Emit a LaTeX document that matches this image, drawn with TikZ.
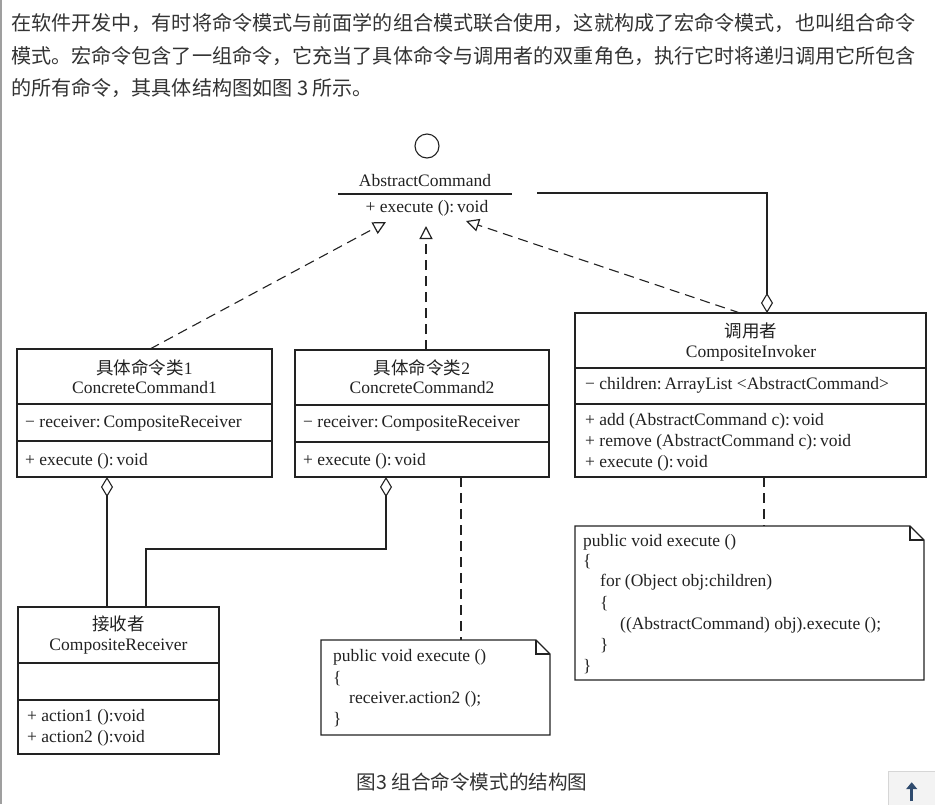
\documentclass[tikz,border=0pt]{standalone}
\usepackage{fontspec}
\setmainfont{Liberation Serif}
\newfontfamily\cjk{Noto Sans CJK SC}
\usetikzlibrary{arrows.meta,calc}
\definecolor{ink}{HTML}{222222}
\definecolor{para}{HTML}{333333}
\definecolor{btn}{HTML}{F3F3F3}
\definecolor{btnedge}{HTML}{D6D6D6}
\definecolor{arrowblue}{HTML}{2F4B6E}
\begin{document}
\begin{tikzpicture}[x=1pt,y=-1pt,
  box/.style={draw=ink, line width=1.1pt, inner sep=0pt, outer sep=0pt, anchor=north west, fill=white},
  lbl/.style={font=\fontsize{17.5}{20}\selectfont, text=ink, inner sep=0pt, anchor=base},
  lft/.style={lbl, anchor=base west},
  conn/.style={draw=ink, line width=1.1pt},
  dashconn/.style={conn, dash pattern=on 10pt off 6pt},
  realize/.style={dashconn, -{Triangle[open, length=13pt, width=13pt, line width=1.2pt]}},
  agg/.style={conn, {Diamond[open, length=20pt, width=12pt, line width=1.1pt]}-},
  ptext/.style={font=\cjk\fontsize{20.1}{24}\selectfont, text=para, inner sep=0pt, anchor=base west},
]
\useasboundingbox (0,0) rectangle (935,804);
\fill[white] (0,0) rectangle (935,804);
\draw[gray!75, line width=1.5pt] (0.75,0) -- (0.75,804);

% paragraph
\node[ptext] (p1) at (11,30) {在软件开发中，有时将命令模式与前面学的组合模式联合使用，这就构成了宏命令模式，也叫组合命令};
\node[ptext] (p2) at (11,63) {模式。宏命令包含了一组命令，它充当了具体命令与调用者的双重角色，执行它时将递归调用它所包含};
\node[ptext] (p3) at (11,95) {的所有命令，其具体结构图如图 3 所示。};

% abstract command (interface)
\node[circle, draw=ink, line width=1.1pt, minimum size=24pt, inner sep=0pt] (circ) at (427,146) {};
\node[lbl] (acname) at (425,186) {AbstractCommand};
\draw[conn] (338,194) -- (512,194);
\node[lbl] (acop) at (427,212) {+ execute ():\,void};
\coordinate (acend) at (537,193);
\coordinate (tip1) at (386,222);
\coordinate (tip2) at (426,226);
\coordinate (tip3) at (466,221);

% boxes
\node[box, minimum width=255pt, minimum height=128pt] (cc1) at (17,349) {};
\node[box, minimum width=254pt, minimum height=127pt] (cc2) at (295,350) {};
\node[box, minimum width=351pt, minimum height=164pt] (inv) at (575,313) {};
\node[box, minimum width=201pt, minimum height=147pt] (rcv) at (18,607) {};

% dividers
\draw[conn] (cc1.west |- 0,404) -- (cc1.east |- 0,404);
\draw[conn] (cc1.west |- 0,441) -- (cc1.east |- 0,441);
\draw[conn] (cc2.west |- 0,405) -- (cc2.east |- 0,405);
\draw[conn] (cc2.west |- 0,442) -- (cc2.east |- 0,442);
\draw[conn] (inv.west |- 0,368) -- (inv.east |- 0,368);
\draw[conn] (inv.west |- 0,404) -- (inv.east |- 0,404);
\draw[conn] (rcv.west |- 0,663) -- (rcv.east |- 0,663);
\draw[conn] (rcv.west |- 0,700) -- (rcv.east |- 0,700);

% cc1 text
\node[lbl] (cc1a) at (144.5,374) {{\cjk 具体命令类}1};
\node[lbl] (cc1b) at (144.5,393) {ConcreteCommand1};
\node[lft] (cc1c) at (25,427) {− receiver:\,CompositeReceiver};
\node[lft] (cc1d) at (25,465) {+ execute ():\,void};

% cc2 text
\node[lbl] (cc2a) at (422,374) {{\cjk 具体命令类}2};
\node[lbl] (cc2b) at (422,393) {ConcreteCommand2};
\node[lft] (cc2c) at (303,427) {− receiver:\,CompositeReceiver};
\node[lft] (cc2d) at (303,465) {+ execute ():\,void};

% invoker text
\node[lbl] (inva) at (751,337) {{\cjk 调用者}};
\node[lbl] (invb) at (751,357) {CompositeInvoker};
\node[lft] (invc) at (585,389) {− children:\,ArrayList <AbstractCommand>};
\node[lft] (invd) at (585,425) {+ add (AbstractCommand c):\,void};
\node[lft] (inve) at (585,446) {+ remove (AbstractCommand c):\,void};
\node[lft] (invf) at (585,467) {+ execute ():\,void};

% receiver text
\node[lbl] (rcva) at (118.5,630) {{\cjk 接收者}};
\node[lbl] (rcvb) at (118.5,650) {CompositeReceiver};
\node[lft] (rcvc) at (27,721) {+ action1 ():void};
\node[lft] (rcvd) at (27,742) {+ action2 ():void};

% notes
\node[inner sep=0pt, outer sep=0pt, minimum width=229pt, minimum height=95pt, anchor=north west] (n1) at (321,640) {};
\draw[conn, fill=white, line join=miter] (n1.north west) -- ([xshift=-14pt]n1.north east) -- ([yshift=-14pt]n1.north east) -- (n1.south east) -- (n1.south west) -- cycle;
\draw[conn] ([xshift=-14pt]n1.north east) -- ([xshift=-14pt,yshift=-14pt]n1.north east) -- ([yshift=-14pt]n1.north east);
\node[lft] (n1a) at (333,661) {public void execute ()};
\node[lft] (n1b) at (333,683) {\{};
\node[lft] (n1c) at (349,703) {receiver.action2 ();};
\node[lft] (n1d) at (333,724) {\}};

\node[inner sep=0pt, outer sep=0pt, minimum width=349pt, minimum height=154pt, anchor=north west] (n2) at (575,526) {};
\draw[conn, fill=white, line join=miter] (n2.north west) -- ([xshift=-14pt]n2.north east) -- ([yshift=-14pt]n2.north east) -- (n2.south east) -- (n2.south west) -- cycle;
\draw[conn] ([xshift=-14pt]n2.north east) -- ([xshift=-14pt,yshift=-14pt]n2.north east) -- ([yshift=-14pt]n2.north east);
\node[lft] (n2a) at (583,546) {public void execute ()};
\node[lft] (n2b) at (583,566) {\{};
\node[lft] (n2c) at (600,586) {for (Object obj:children)};
\node[lft] (n2d) at (600,608) {\{};
\node[lft] (n2e) at (620,629) {((AbstractCommand) obj).execute ();};
\node[lft] (n2f) at (600,650) {\}};
\node[lft] (n2g) at (583,671) {\}};

% realization arrows
\draw[realize] ($(cc1.north west)+(133,0)$) -- (tip1);
\draw[realize] ($(cc2.north west)+(131,0)$) -- (tip2);
\draw[realize] ($(inv.north west)+(165,0)$) -- (tip3);

% invoker aggregation to abstract command
\draw[agg] ($(inv.north west)+(192,0)$) |- (acend);

% aggregations to receiver
\draw[agg] ($(cc1.south west)+(90,0)$) -- ($(rcv.north west)+(89,0)$);
\draw[agg] ($(cc2.south west)+(91,0)$) |- ($(cc2.south west)+(91,72)$) -| ($(rcv.north west)+(128,0)$);

% note anchors
\draw[dashconn] ($(cc2.south west)+(166,0)$) -- ($(n1.north west)+(140,0)$);
\draw[dashconn] ($(inv.south west)+(189,0)$) -- ($(n2.north west)+(189,0)$);

% caption
\node[font=\cjk\fontsize{19.6}{22}\selectfont, text=para, inner sep=0pt, anchor=base] (cap) at (472,789) {图3 组合命令模式的结构图};

% back-to-top button
\node[draw=btnedge, fill=btn, minimum width=47pt, minimum height=36pt, inner sep=0pt, anchor=north west] (topbtn) at (888,771) {};
\draw[arrowblue, line width=2.6pt, -{Triangle[length=7pt, width=11pt]}] ($(topbtn.center)+(0,12)$) -- ($(topbtn.center)+(0,-7)$);
\end{tikzpicture}
\end{document}
